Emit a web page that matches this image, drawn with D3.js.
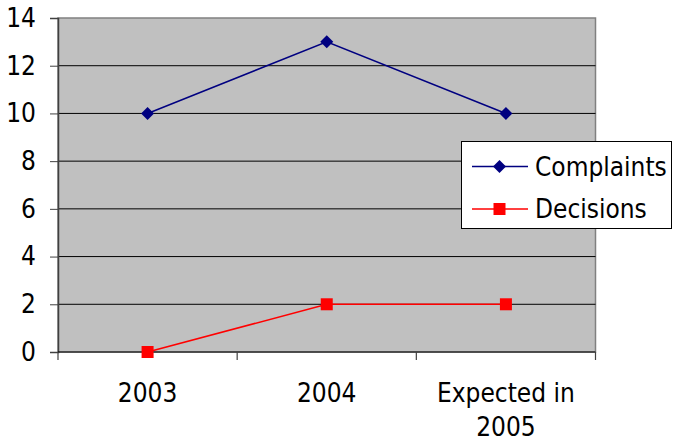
<!DOCTYPE html>
<html><head><meta charset="utf-8">
<script src="https://cdn.jsdelivr.net/npm/d3@7"></script>
<style>body{margin:0;background:#fff;} svg text{font-family:"DejaVu Sans Condensed","DejaVu Sans",sans-serif;}</style>
</head><body>
<svg id="c" width="673" height="443"></svg>
<script>
const categories = [["2003"], ["2004"], ["Expected in", "2005"]];
const complaints = [10, 13, 10];
const decisions = [0, 2, 2];
const yTicks = [0, 2, 4, 6, 8, 10, 12, 14];
const seriesNames = ["Complaints", "Decisions"];

const svg = d3.select("#c");
const L = 58, R = 595.5, T = 18, B = 352;
const x = d3.scaleBand().domain(d3.range(categories.length)).range([L, R]);
const y = d3.scaleLinear().domain([0, 14]).range([B, T]);
const fs = 26;

svg.append("rect").attr("x", L).attr("y", T).attr("width", R - L).attr("height", B - T)
  .attr("fill", "#c0c0c0").attr("stroke", "#808080").attr("stroke-width", 1.5);

// gridlines
svg.append("g").selectAll("line").data(yTicks.filter(d => d > 0 && d < 14)).join("line")
  .attr("x1", L).attr("x2", R).attr("y1", d => y(d)).attr("y2", d => y(d))
  .attr("stroke", "#000").attr("stroke-width", 1);

// y axis
const ya = svg.append("g").attr("transform", `translate(${L},0)`)
  .call(d3.axisLeft(y).tickValues(yTicks).tickSize(8).tickPadding(14).tickFormat(d3.format("d")));
ya.select(".domain").attr("stroke", "#404040").attr("stroke-width", 1.5);
ya.selectAll(".tick line").attr("stroke", "#404040");
ya.selectAll("text").attr("font-size", fs).attr("fill", "#000")
  .style("font-family", '"DejaVu Sans Condensed","DejaVu Sans",sans-serif');

// x axis
svg.append("line").attr("x1", L).attr("x2", R).attr("y1", B).attr("y2", B).attr("stroke", "#000");
const bounds = d3.range(categories.length + 1).map(i => i < categories.length ? x(i) : x(i - 1) + x.bandwidth());
svg.append("g").selectAll("line").data(bounds).join("line")
  .attr("x1", d => d).attr("x2", d => d).attr("y1", B).attr("y2", B + 8)
  .attr("stroke", "#404040").attr("stroke-width", 1.2);
const xl = svg.append("g").selectAll("text").data(categories).join("text")
  .attr("x", (d, i) => x(i) + x.bandwidth() / 2).attr("y", 402)
  .attr("text-anchor", "middle").attr("font-size", fs).attr("fill", "#000");
xl.each(function(d) {
  const t = d3.select(this);
  d.forEach((s, j) => t.append("tspan").attr("x", t.attr("x")).attr("dy", j ? 34 : 0).text(s));
});

const line = d3.line().x((d, i) => x(i) + x.bandwidth() / 2).y(d => y(d));
const cx = (d, i) => x(i) + x.bandwidth() / 2;

svg.append("path").datum(complaints).attr("d", line).attr("fill", "none").attr("stroke", "#000080").attr("stroke-width", 1.5);
svg.append("path").datum(decisions).attr("d", line).attr("fill", "none").attr("stroke", "#ff0000").attr("stroke-width", 1.5);

const diamond = (s) => `M0,${-s}L${s},0L0,${s}L${-s},0Z`;
svg.append("g").selectAll("path").data(complaints).join("path")
  .attr("d", diamond(6.5)).attr("transform", (d, i) => `translate(${cx(d, i)},${y(d)})`).attr("fill", "#000080");
svg.append("g").selectAll("rect").data(decisions).join("rect")
  .attr("x", (d, i) => cx(d, i) - 6).attr("y", d => y(d) - 6).attr("width", 12).attr("height", 12).attr("fill", "#ff0000");

// legend
const lg = svg.append("g");
lg.append("rect").attr("x", 461.5).attr("y", 141.5).attr("width", 210).attr("height", 87)
  .attr("fill", "#fff").attr("stroke", "#000").attr("stroke-width", 1);
const rows = [{ name: seriesNames[0], c: "#000080", m: "d", yy: 166.5 }, { name: seriesNames[1], c: "#ff0000", m: "s", yy: 209 }];
rows.forEach(r => {
  lg.append("line").attr("x1", 472).attr("x2", 528).attr("y1", r.yy).attr("y2", r.yy).attr("stroke", r.c).attr("stroke-width", 1.5);
  if (r.m === "d") lg.append("path").attr("d", diamond(6.5)).attr("transform", `translate(499.5,${r.yy})`).attr("fill", r.c);
  else lg.append("rect").attr("x", 493.5).attr("y", r.yy - 6).attr("width", 12).attr("height", 12).attr("fill", r.c);
  lg.append("text").attr("x", 535).attr("y", r.yy).attr("dy", "0.35em").attr("font-size", fs).attr("fill", "#000").text(r.name);
});
</script>
</body></html>
